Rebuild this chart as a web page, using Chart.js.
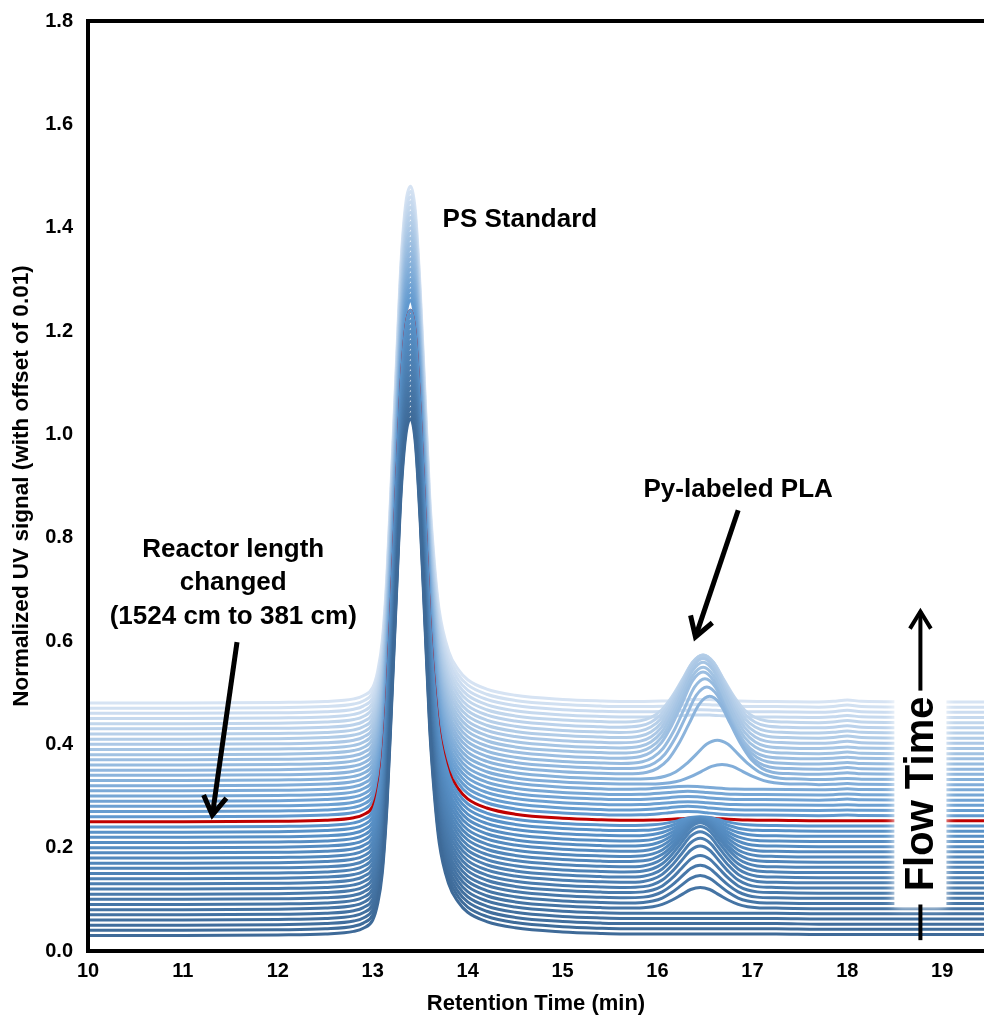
<!DOCTYPE html>
<html>
<head>
<meta charset="utf-8">
<script src="https://cdn.jsdelivr.net/npm/chart.js@4.4.1/dist/chart.umd.min.js"></script>
<style>
  html, body { margin: 0; padding: 0; background: #fff; overflow: hidden; }
  #wrap { position: relative; width: 984px; height: 1020px; }
</style>
</head>
<body>
<div id="wrap"><canvas id="gpcChart"></canvas></div>
<script>
// baseline of every trace (offset of 0.01 between runs), bottom run first
const baselines = [0.03, 0.04, 0.05, 0.06, 0.07, 0.08, 0.09, 0.10, 0.11, 0.12,
  0.13, 0.14, 0.15, 0.16, 0.17, 0.18, 0.19, 0.20, 0.21, 0.22,
  0.23, 0.24, 0.25, 0.26, 0.27, 0.28, 0.29, 0.30, 0.31, 0.32,
  0.33, 0.34, 0.35, 0.36, 0.37, 0.38, 0.39, 0.40, 0.41, 0.42,
  0.43, 0.44, 0.45, 0.46, 0.47, 0.48];
const redRun = 22; // run where reactor length was changed

// PS standard peak height above baseline for each run
const psHeights = [1.00, 1.00, 1.00, 1.00, 1.00, 1.00, 1.00, 1.00, 1.00, 1.00,
  1.00, 1.00, 1.00, 1.00, 1.00, 1.00, 1.00, 1.00, 1.00, 1.00,
  1.00, 1.00, 0.99, 1.00, 1.00, 1.00, 1.00, 1.00, 1.00, 1.00,
  1.00, 1.00, 1.00, 1.00, 1.00, 1.00, 1.00, 1.00, 1.00, 1.00,
  1.00, 1.00, 1.00, 1.00, 1.00, 1.00];

// Py-labeled PLA peak: height, centre (min) and relative width per run
const plaHeights = [0, 0, 0, 0, 0, 0.040, 0.053, 0.063, 0.072, 0.080,
  0.085, 0.088, 0.088, 0.085, 0.078, 0.070, 0.062, 0.053, 0.044, 0.035,
  0.026, 0.017, 0.005, 0.007, 0.007, 0.006, 0.006, 0.006, 0.006, 0.038,
  0.075, 0.150, 0.158, 0.164, 0.167, 0.166, 0.166, 0.163, 0.158, 0.150,
  0.140, 0.128, 0.004, 0.004, 0.004, 0.004];
const plaCenters = [16.45, 16.45, 16.45, 16.45, 16.45, 16.45, 16.45, 16.45, 16.45, 16.45,
  16.45, 16.45, 16.45, 16.45, 16.45, 16.45, 16.45, 16.45, 16.45, 16.45,
  16.45, 16.45, 16.45, 16.32, 16.32, 16.32, 16.32, 16.32, 16.32, 16.68,
  16.63, 16.55, 16.52, 16.50, 16.48, 16.48, 16.48, 16.48, 16.48, 16.48,
  16.48, 16.48, 16.45, 16.45, 16.45, 16.45];
const plaWidths = [1, 1, 1, 1, 1, 1, 1, 1, 1, 1,
  1, 1, 1, 1, 1, 1, 1, 1, 1, 1,
  1, 1, 1, 1, 1, 1, 1, 1, 1, 1.1,
  1.1, 1.1, 1.1, 1.1, 1.1, 1.1, 1.1, 1.1, 1.1, 1.1,
  1.1, 1.1, 1, 1, 1, 1];
// small bump near 18 min, only seen on the later runs
const lateBump = [0, 0, 0, 0, 0, 0, 0, 0, 0, 0,
  0, 0, 0, 0, 0, 0, 0, 0, 0, 0,
  0, 0, 0, 0.001, 0.001, 0.001, 0.002, 0.002, 0.002, 0.002,
  0.002, 0.003, 0.003, 0.003, 0.003, 0.003, 0.003, 0.004, 0.004, 0.004,
  0.004, 0.004, 0.004, 0.004, 0.004, 0.004];

// shared shape of the PS standard peak (retention time, relative signal)
const psTime  = [10, 11, 12, 12.5, 12.8, 12.9, 13.0, 13.05, 13.1, 13.15, 13.2, 13.25, 13.3, 13.35,
  13.4, 13.45, 13.5, 13.55, 13.6, 13.65, 13.7, 13.8, 13.9, 14.0, 14.2, 14.5, 15.0, 15.4];
const psShape = [0, 0, 0.001, 0.003, 0.008, 0.014, 0.03, 0.06, 0.12, 0.25, 0.45, 0.66, 0.86, 0.97,
  1.0, 0.95, 0.8, 0.6, 0.4, 0.27, 0.18, 0.1, 0.065, 0.045, 0.027, 0.015, 0.007, 0.004];
// shared shape of the PLA peak (offset from centre, relative signal)
const plaOffset = [-0.8, -0.6, -0.5, -0.4, -0.3, -0.2, -0.1, 0, 0.1, 0.2, 0.3, 0.4, 0.5, 0.6, 0.8];
const plaShape  = [0, 0.02, 0.07, 0.18, 0.38, 0.64, 0.9, 1, 0.9, 0.64, 0.38, 0.18, 0.07, 0.02, 0];
const plaFloor = 0.003;
// late part of the trace (times and the relative size of the 18 min bump)
const tailTime  = [17.7, 17.85, 18.0, 18.15, 19.0, 19.6];
const tailFloor = 0.002;
const bumpShape = [0, 0.3, 1, 0.3, 0, 0];

const xTicks = [10, 11, 12, 13, 14, 15, 16, 17, 18, 19];
const yTicks = [0, 0.2, 0.4, 0.6, 0.8, 1.0, 1.2, 1.4, 1.6, 1.8];
const xTitle = 'Retention Time (min)';
const yTitle = 'Normalized UV signal (with offset of 0.01)';

function trace(i) {
  const b = baselines[i];
  const pts = [];
  psTime.forEach((t, k) => pts.push({ x: t, y: b + psHeights[i] * psShape[k] }));
  plaOffset.forEach((d, k) => pts.push({ x: plaCenters[i] + d * plaWidths[i], y: b + plaFloor + plaHeights[i] * plaShape[k] }));
  tailTime.forEach((t, k) => pts.push({ x: t, y: b + tailFloor + lateBump[i] * bumpShape[k] }));
  return pts;
}

function runColor(i) {
  const dark = [62, 106, 152], mid = [92, 150, 205], light = [214, 227, 243];
  let a, c, f;
  if (i <= redRun) { a = dark; c = mid; f = i / redRun; }
  else { a = mid; c = light; f = (i - redRun) / (baselines.length - 1 - redRun); }
  const m = a.map((v, k) => Math.round(v + (c[k] - v) * f));
  return `rgb(${m[0]},${m[1]},${m[2]})`;
}

const datasets = baselines.map((b, i) => ({
  label: 'run ' + (i + 1),
  data: trace(i),
  borderColor: i === redRun ? '#C00000' : runColor(i),
  borderWidth: 3,
  pointRadius: 0,
  cubicInterpolationMode: 'monotone',
  fill: false
}));

function arrow(ctx, x0, y0, x1, y1, head, width) {
  const ang = Math.atan2(y1 - y0, x1 - x0);
  ctx.save();
  ctx.strokeStyle = '#000';
  ctx.lineWidth = width;
  ctx.lineCap = 'butt';
  ctx.lineJoin = 'miter';
  ctx.beginPath();
  ctx.moveTo(x0, y0);
  ctx.lineTo(x1, y1);
  ctx.stroke();
  ctx.beginPath();
  ctx.moveTo(x1 - head * Math.cos(ang - 0.55), y1 - head * Math.sin(ang - 0.55));
  ctx.lineTo(x1, y1);
  ctx.lineTo(x1 - head * Math.cos(ang + 0.55), y1 - head * Math.sin(ang + 0.55));
  ctx.stroke();
  ctx.restore();
}

const decorations = {
  id: 'decorations',
  afterDraw(chart) {
    const { ctx, chartArea, scales } = chart;
    const px = v => scales.x.getPixelForValue(v);
    const py = v => scales.y.getPixelForValue(v);
    ctx.save();
    // frame
    ctx.strokeStyle = '#000';
    ctx.lineWidth = 4;
    ctx.beginPath();
    ctx.moveTo(chart.width + 5, chartArea.top);
    ctx.lineTo(chartArea.left, chartArea.top);
    ctx.lineTo(chartArea.left, chartArea.bottom);
    ctx.lineTo(chart.width + 5, chartArea.bottom);
    ctx.stroke();

    // labels
    ctx.fillStyle = '#000';
    ctx.textAlign = 'center';
    ctx.textBaseline = 'middle';
    ctx.font = 'bold 26px "Liberation Sans", Arial, sans-serif';
    ctx.fillText('PS Standard', px(14.55), py(1.415));
    ctx.fillText('Py-labeled PLA', px(16.85), py(0.892));
    ctx.fillText('Reactor length', px(11.53), py(0.776));
    ctx.fillText('changed', px(11.53), py(0.712));
    ctx.fillText('(1524 cm to 381 cm)', px(11.53), py(0.647));

    arrow(ctx, px(11.57), py(0.598), px(11.31), py(0.263), 22, 5);
    arrow(ctx, px(16.85), py(0.853), px(16.40), py(0.608), 22, 5);

    // flow time marker
    const fx = px(18.77);
    ctx.save();
    ctx.fillStyle = '#fff';
    ctx.shadowColor = '#fff';
    ctx.shadowBlur = 10;
    ctx.fillRect(fx - 26, py(0.504), 52, py(0.085) - py(0.504));
    ctx.restore();
    arrow(ctx, fx, py(0.504), fx, py(0.657), 20, 4);
    ctx.strokeStyle = '#000';
    ctx.lineWidth = 4;
    ctx.beginPath();
    ctx.moveTo(fx, py(0.09));
    ctx.lineTo(fx, py(0.021));
    ctx.stroke();
    ctx.save();
    ctx.translate(px(18.79), py(0.304));
    ctx.rotate(-Math.PI / 2);
    ctx.font = 'bold 40px "Liberation Sans", Arial, sans-serif';
    ctx.fillText('Flow Time', 0, 0);
    ctx.restore();
    ctx.restore();
  }
};

const tickFont = { family: '"Liberation Sans", Arial, sans-serif', size: 20, weight: 'bold' };

new Chart(document.getElementById('gpcChart'), {
  type: 'line',
  data: { datasets },
  options: {
    responsive: true,
    maintainAspectRatio: false,
    animation: false,
    layout: { padding: { top: 0, right: 0, left: 0, bottom: 0 } },
    plugins: { legend: { display: false }, tooltip: { enabled: false } },
    scales: {
      x: {
        type: 'linear',
        min: 10,
        max: 19.44,
        grid: { display: false, drawTicks: false },
        border: { display: false },
        afterBuildTicks: s => { s.ticks = xTicks.map(v => ({ value: v })); },
        afterFit: s => { s.height = 69; s.paddingLeft = 0; s.paddingRight = 0; },
        ticks: { color: '#000', font: tickFont, padding: 8, maxRotation: 0, callback: v => v },
        title: { display: true, text: xTitle, color: '#000',
          font: { family: '"Liberation Sans", Arial, sans-serif', size: 22, weight: 'bold' }, padding: { top: 0, bottom: 3 } }
      },
      y: {
        min: 0,
        max: 1.8,
        grid: { display: false, drawTicks: false },
        border: { display: false },
        afterBuildTicks: s => { s.ticks = yTicks.map(v => ({ value: v })); },
        afterFit: s => { s.width = 88; s.paddingTop = 21; s.paddingBottom = 0; },
        ticks: { color: '#000', font: tickFont, padding: 15, callback: v => Number(v).toFixed(1) },
        title: { display: true, text: yTitle, color: '#000',
          font: { family: '"Liberation Sans", Arial, sans-serif', size: 22.5, weight: 'bold' }, padding: { top: 8, bottom: 0 } }
      }
    }
  },
  plugins: [decorations]
});
</script>
</body>
</html>
